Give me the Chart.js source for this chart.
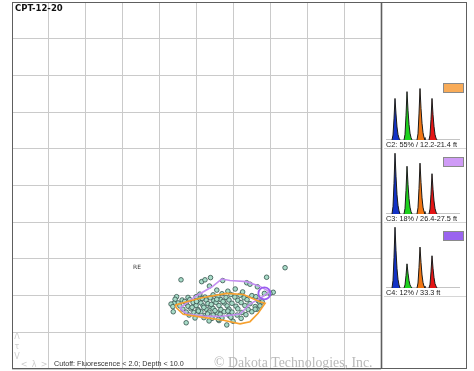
<!DOCTYPE html>
<html>
<head>
<meta charset="utf-8">
<script src="https://cdn.jsdelivr.net/npm/chart.js@4.4.1/dist/chart.umd.min.js"></script>
<style>
  html, body { margin: 0; padding: 0; background: #fff; }
  #wrap { position: relative; width: 474px; height: 371px; overflow: hidden; }
  #wrap canvas { position: absolute; }
</style>
</head>
<body>
<div id="wrap">
  <canvas id="main" width="474" height="371" style="left:0;top:0"></canvas>
</div>
<script>
// ---- labels ----
const plotTitle = 'CPT-12-20';
const cutoffNote = 'Cutoff: Fluorescence < 2.0; Depth < 10.0';
const copyrightNote = '\u00A9 Dakota Technologies, Inc.';
const reLabel = { x: 3.39, y: 2.77, text: 'RE' };

// ---- classes (callout panels) ----
const classNames = ['C2', 'C3', 'C4'];
const classShare = [55, 18, 12];
const classDepth = ['12.2-21.4', '26.4-27.5', '33.3'];
const classColors = ['#f8ab58', '#cf9bf6', '#9a64ef'];

// ---- reference waveforms: blue, green, orange, red channel pulses ----
const channelColors = ['#1232c6', '#1ed21e', '#f07512', '#e31414'];
const channelStart = [6, 18, 31, 43];
const waveC2 = [
  [0, 8, 34, 67, 42, 21, 9, 3, 0],
  [0, 9, 39, 78, 48, 25, 11, 4, 0],
  [0, 10, 42, 83, 51, 27, 12, 4, 0],
  [0, 8, 33, 67, 41, 22, 9, 3, 0]
];
const waveC3 = [
  [0, 12, 49, 98, 61, 31, 14, 5, 0],
  [0, 9, 38, 77, 48, 25, 11, 4, 0],
  [0, 10, 41, 82, 51, 26, 11, 4, 0],
  [0, 8, 32, 65, 40, 21, 9, 3, 0]
];
const waveC4 = [
  [0, 12, 49, 98, 60, 31, 14, 5, 0],
  [0, 5, 20, 39, 24, 12, 5, 2, 0],
  [0, 8, 33, 66, 41, 21, 9, 3, 0],
  [0, 6, 26, 52, 32, 17, 7, 3, 0]
];
const classWaves = [waveC2, waveC3, waveC4];

// ---- scatter of logged waveforms ----
const samplePoints = [
  [5.09, 2.04], [5.45, 2.02], [5.69, 2.05], [5.93, 2.03], [6.18, 2.01], [6.50, 2.00],
  [4.77, 1.95], [4.99, 1.97], [5.23, 1.96], [5.37, 1.94], [5.58, 1.97], [5.80, 1.95],
  [6.04, 1.96], [6.29, 1.94], [6.61, 1.97],
  [4.61, 1.88], [4.82, 1.89], [5.07, 1.87], [5.26, 1.88], [5.47, 1.86], [5.66, 1.89],
  [5.88, 1.88], [6.12, 1.87], [6.37, 1.89], [6.67, 1.86],
  [4.50, 1.80], [4.72, 1.79], [4.91, 1.81], [5.12, 1.80], [5.31, 1.78], [5.53, 1.81],
  [5.75, 1.80], [5.96, 1.79], [6.21, 1.81], [6.45, 1.78], [6.72, 1.80],
  [4.55, 1.72], [4.77, 1.71], [4.99, 1.73], [5.18, 1.72], [5.39, 1.70], [5.61, 1.73],
  [5.83, 1.72], [6.07, 1.71], [6.31, 1.73], [6.59, 1.70],
  [4.63, 1.63], [4.85, 1.64], [5.04, 1.62], [5.26, 1.63], [5.45, 1.65], [5.66, 1.62],
  [5.88, 1.63], [6.12, 1.64], [6.40, 1.62], [6.64, 1.63],
  [4.72, 1.55], [4.93, 1.54], [5.12, 1.56], [5.34, 1.55], [5.56, 1.53], [5.75, 1.56],
  [5.96, 1.55], [6.23, 1.54], [6.50, 1.56],
  [4.80, 1.47], [5.01, 1.48], [5.23, 1.46], [5.45, 1.47], [5.64, 1.49], [5.88, 1.46],
  [6.10, 1.47], [6.34, 1.48],
  [4.96, 1.39], [5.20, 1.40], [5.42, 1.38], [5.69, 1.39], [5.93, 1.41], [6.21, 1.38],
  [5.34, 1.31], [5.61, 1.32], [5.99, 1.30],
  [5.00, 1.84], [5.20, 1.68], [5.40, 1.76], [5.50, 1.59], [5.15, 1.92], [5.30, 1.50],
  [4.88, 1.68], [5.72, 1.84], [5.55, 1.90], [5.05, 1.58], [4.68, 1.84], [5.85, 1.58],
  [5.55, 2.15], [5.85, 2.12], [6.05, 2.18], [6.25, 2.10],
  [7.40, 2.76], [6.90, 2.50], [4.58, 2.43], [5.14, 2.38], [5.23, 2.43], [5.38, 2.49],
  [5.71, 2.41], [5.35, 2.26], [6.36, 2.35], [6.45, 2.31], [6.65, 2.24], [6.84, 2.06],
  [7.08, 2.09], [6.99, 2.06], [4.46, 1.97], [4.42, 1.90], [4.39, 1.79], [4.31, 1.77],
  [4.36, 1.70], [4.37, 1.56], [4.72, 1.26], [5.82, 1.20], [5.59, 1.35],
  [6.59, 1.63], [6.72, 1.72], [6.78, 1.83]
];

// ---- class outlines ----
const hullC2 = [
  [4.42, 1.74], [4.73, 1.83], [5.18, 1.95], [5.82, 2.06], [6.27, 2.03], [6.72, 1.83],
  [6.86, 1.79], [6.67, 1.52], [6.45, 1.29], [6.18, 1.23], [5.73, 1.33], [5.09, 1.42],
  [4.64, 1.49], [4.46, 1.66], [4.42, 1.74]
];
const hullC3 = [
  [4.55, 1.66], [4.99, 1.99], [5.42, 2.24], [5.68, 2.45], [5.91, 2.41], [6.36, 2.38],
  [6.72, 2.25], [6.97, 2.11], [6.78, 1.96], [6.45, 1.77], [6.18, 1.50], [5.64, 1.43],
  [5.18, 1.44], [4.74, 1.50], [4.55, 1.66]
];
const hullC4 = [[6.84, 2.06]];

const toXY = arr => arr.map(p => ({ x: p[0], y: p[1] }));

// ---- panel geometry ----
const panelLeft = 381, panelRight = 466;
const panelTop0 = 74, panelStep = 74;
const waveLeft = 386, waveWidth = 74, waveHeight = 62;

const overlay = {
  id: 'overlay',
  afterDraw(chart) {
    const { ctx, chartArea: a } = chart;
    const sx = chart.scales.x, sy = chart.scales.y;
    ctx.save();

    // callout panels
    classNames.forEach((name, i) => {
      const y0 = panelTop0 + panelStep * i;
      const base = y0 + 65;
      ctx.strokeStyle = '#c4c4c4';
      ctx.lineWidth = 1;
      ctx.beginPath();
      ctx.moveTo(waveLeft, base + 0.5);
      ctx.lineTo(waveLeft + waveWidth, base + 0.5);
      ctx.stroke();
      ctx.strokeStyle = '#d6d6d6';
      ctx.beginPath();
      ctx.moveTo(panelLeft + 3, y0 + 74.5);
      ctx.lineTo(panelRight, y0 + 74.5);
      ctx.stroke();
      // class swatch
      ctx.fillStyle = classColors[i];
      ctx.fillRect(443, y0 + 9, 20, 9);
      ctx.strokeStyle = '#8a8a8a';
      ctx.strokeRect(443.5, y0 + 9.5, 20, 9);
      // caption
      ctx.fillStyle = '#222';
      ctx.font = '7.3px "Liberation Sans", Arial, sans-serif';
      ctx.textBaseline = 'middle';
      ctx.textAlign = 'left';
      ctx.fillText(name + ': ' + classShare[i] + '% / ' + classDepth[i] + ' ft', 386, y0 + 71);
    });

    // frame
    ctx.strokeStyle = '#5e5e5e';
    ctx.lineWidth = 1;
    ctx.strokeRect(a.left + 0.5, a.top + 0.5, panelRight - a.left, a.bottom - a.top - 1);
    ctx.lineWidth = 1.6;
    ctx.beginPath();
    ctx.moveTo(a.right + 0.5, a.top);
    ctx.lineTo(a.right + 0.5, a.bottom);
    ctx.stroke();

    // title
    ctx.fillStyle = '#111';
    ctx.font = 'bold 8.5px "DejaVu Sans", sans-serif';
    ctx.textBaseline = 'middle';
    ctx.textAlign = 'left';
    ctx.fillText(plotTitle, 15, 9);

    // RE marker label
    ctx.font = '6px "DejaVu Sans", sans-serif';
    ctx.fillStyle = '#333';
    ctx.textAlign = 'center';
    ctx.fillText(reLabel.text, sx.getPixelForValue(reLabel.x), sy.getPixelForValue(reLabel.y));

    // faint axis glyphs
    ctx.fillStyle = '#cdcdcd';
    ctx.font = '8px "DejaVu Sans", sans-serif';
    ctx.fillText('\u039B', 17, 337);
    ctx.fillText('\u03C4', 17, 347);
    ctx.fillText('V', 17, 357);
    ctx.fillText('<', 24, 365);
    ctx.fillText('\u03BB', 34, 365);
    ctx.fillText('>', 44, 365);

    // notes
    ctx.textAlign = 'left';
    ctx.fillStyle = '#333';
    ctx.font = '7.2px "Liberation Sans", Arial, sans-serif';
    ctx.fillText(cutoffNote, 54, 364.5);
    ctx.fillStyle = '#b9b9b9';
    ctx.font = '13.8px "Liberation Serif", serif';
    ctx.fillText(copyrightNote, 214, 363.5);
    ctx.restore();
  }
};

new Chart(document.getElementById('main'), {
  type: 'scatter',
  data: {
    datasets: [
      { label: 'C4', data: toXY(hullC4), pointRadius: 6, pointHoverRadius: 6,
        pointBorderColor: '#9a5cf0', pointBorderWidth: 1.8, pointBackgroundColor: 'rgba(0,0,0,0)', order: 0 },
      { label: 'C2', type: 'line', data: toXY(hullC2), borderColor: '#f6a02e', borderWidth: 1.6,
        pointRadius: 0, fill: false, tension: 0, order: 1 },
      { label: 'C3', type: 'line', data: toXY(hullC3), borderColor: '#c48ff0', borderWidth: 1.6,
        pointRadius: 0, fill: false, tension: 0, order: 1 },
      { label: 'samples', data: toXY(samplePoints), pointRadius: 2.3, pointHoverRadius: 2.3,
        pointBackgroundColor: '#a8dcc8', pointBorderColor: '#33514a', pointBorderWidth: 0.8, order: 2 }
    ]
  },
  options: {
    responsive: false,
    animation: false,
    events: [],
    layout: { autoPadding: false, padding: { left: 12, top: 2, right: 93, bottom: 2 } },
    scales: {
      x: { type: 'linear', min: 0, max: 10, ticks: { display: false, stepSize: 1 },
           grid: { color: '#cacaca', drawTicks: false }, border: { display: false } },
      y: { type: 'linear', min: 0, max: 10, ticks: { display: false, stepSize: 1 },
           grid: { color: '#cacaca', drawTicks: false }, border: { display: false } }
    },
    plugins: { legend: { display: false }, tooltip: { enabled: false } }
  },
  plugins: [overlay]
});

// waveform thumbnails, one small chart per class
const wrap = document.getElementById('wrap');
classWaves.forEach((wave, i) => {
  const base = panelTop0 + panelStep * i + 65;
  const cv = document.createElement('canvas');
  cv.width = waveWidth;
  cv.height = waveHeight;
  cv.style.left = waveLeft + 'px';
  cv.style.top = (base - waveHeight + 1) + 'px';
  wrap.appendChild(cv);
  new Chart(cv, {
    type: 'line',
    data: {
      datasets: wave.map((samples, c) => ({
        data: samples.map((v, k) => ({ x: channelStart[c] + k, y: v })),
        borderColor: '#1a1a1a', borderWidth: 1, backgroundColor: channelColors[c],
        fill: 'origin', pointRadius: 0, tension: 0
      }))
    },
    options: {
      responsive: false,
      animation: false,
      events: [],
      layout: { autoPadding: false, padding: 0 },
      scales: {
        x: { type: 'linear', min: 0, max: waveWidth, display: false },
        y: { min: 0, max: 100, display: false }
      },
      plugins: { legend: { display: false }, tooltip: { enabled: false } }
    }
  });
});
</script>
</body>
</html>
